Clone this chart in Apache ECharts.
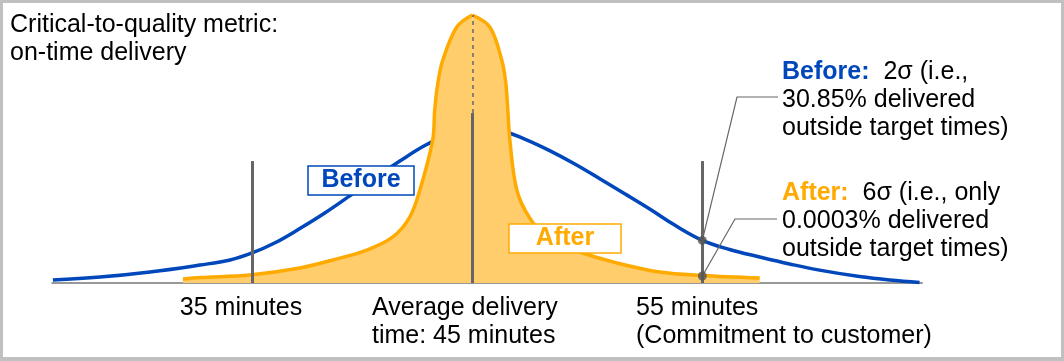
<!DOCTYPE html>
<html><head><meta charset="utf-8">
<script src="https://cdn.jsdelivr.net/npm/echarts@6/dist/echarts.min.js"></script>
<style>html,body{margin:0;padding:0;background:#fff}#c{width:1064px;height:361px}</style>
</head><body><div id="c"></div>
<script>
// Before (wide) distribution: minutes vs relative density
const blueMinutes = [26.14, 28.23, 30.46, 32.68, 34.02, 35.0, 36.02, 37.12, 38.23, 39.34, 40.46, 41.57, 42.68, 43.79, 44.99, 46.01, 47.12, 48.23, 49.35, 50.46, 51.57, 52.68, 53.79, 55.03, 56.23, 57.57, 58.9, 60.23, 62.01, 63.35, 64.68];
const blueValues  = [1.1, 2.2, 4.1, 6.7, 8.6, 11.2, 15.0, 20.3, 26.1, 32.5, 39.2, 45.5, 51.3, 55.6, 58.2, 57.1, 53.7, 49.4, 44.4, 38.9, 33.3, 27.6, 21.6, 15.9, 12.5, 9.7, 7.1, 4.8, 2.4, 1.1, 0.2];
// After (narrow) distribution, left half up to the peak, right half from the peak
const orangeLeftMinutes  = [31.92, 32.68, 34.9, 37.12, 38.59, 40.1, 41.26, 42.01, 42.46, 43.03, 43.12, 43.26, 43.48, 44.1, 44.79];
const orangeLeftValues   = [1.5, 2.05, 3.0, 5.6, 8.6, 12.3, 17.2, 24.6, 34.7, 53.4, 64.6, 74.6, 83.2, 95.5, 100];
const orangeRightMinutes = [44.79, 45.57, 46.1, 46.28, 46.37, 46.46, 46.77, 47.34, 48.23, 49.7, 51.21, 53.12, 55.02, 57.57];
const orangeRightValues  = [100, 95.5, 83.2, 74.6, 64.6, 53.4, 34.7, 24.3, 16.0, 11.2, 7.5, 4.1, 2.8, 1.87];
// Reference lines (minutes) and their top values
const markerMinutes = [35, 44.79, 55];
const markerTops = [45.5, 63.4, 45.5];
const meanDashedTop = 100;
// Intersection dots on the 55-minute line
const dotMinutes = [55.02, 55.02];
const dotValues = [15.9, 2.6];
// Texts
const titleText = 'Critical-to-quality metric:\non-time delivery';
const tickLabels = ['35 minutes', 'Average delivery\ntime: 45 minutes', '55 minutes\n(Commitment to customer)'];
const beforeNote = ['Before:', '2σ (i.e.,', '30.85% delivered', 'outside target times)'];
const afterNote = ['After:', '6σ (i.e., only', '0.0003% delivered', 'outside target times)'];
const seriesNames = ['Before', 'After'];

const BLUE = '#0047BB', ORANGE = '#FFAA00', FILL = '#FFCD6B', GRAY = '#666666';
const FF = '"Liberation Sans", Arial, Helvetica, sans-serif';
const FONT = '25px ' + FF;

const pair = (xs, ys) => xs.map((x, i) => [x, ys[i]]);
const chart = echarts.init(document.getElementById('c'), null, {renderer: 'canvas'});

const option = {
  animation: false,
  grid: {left: 52, right: 141.75, top: 15, bottom: 78},
  xAxis: {type: 'value', min: 26.1, max: 64.8, axisLine: {show: true, lineStyle: {color: '#777', width: 1.5}},
    axisTick: {show: false}, axisLabel: {show: false}, splitLine: {show: false}},
  yAxis: {type: 'value', min: 0, max: 100, show: false, splitLine: {show: false}},
  series: [
    {name: seriesNames[0], type: 'line', data: pair(blueMinutes, blueValues), smooth: 0.4, symbol: 'none',
      lineStyle: {color: BLUE, width: 3.5}, z: 2},
    {name: seriesNames[1], type: 'line', data: pair(orangeLeftMinutes, orangeLeftValues), smooth: 0.35, symbol: 'none',
      lineStyle: {color: ORANGE, width: 3.5}, areaStyle: {color: FILL, opacity: 1}, z: 3},
    {name: seriesNames[1], type: 'line', data: pair(orangeRightMinutes, orangeRightValues), smooth: 0.35, symbol: 'none',
      lineStyle: {color: ORANGE, width: 3.5}, areaStyle: {color: FILL, opacity: 1}, z: 3},
    {type: 'line', data: [], z: 4, silent: true,
      markLine: {silent: true, symbol: 'none', label: {show: false},
        data: markerMinutes.map((m, i) => [{coord: [m, 0], lineStyle: {color: GRAY, width: 3, type: 'solid'}}, {coord: [m, markerTops[i]]}])
          .concat([[{coord: [markerMinutes[1], markerTops[1]], lineStyle: {color: GRAY, width: 1.5, type: [4, 4]}}, {coord: [markerMinutes[1], meanDashedTop]}]])
      }},
    {type: 'scatter', data: pair(dotMinutes, dotValues), symbolSize: 9, itemStyle: {color: '#555'}, z: 6}
  ]
};
chart.setOption(option);

const d1 = chart.convertToPixel({gridIndex: 0}, [dotMinutes[0], dotValues[0]]);
const d2 = chart.convertToPixel({gridIndex: 0}, [dotMinutes[1], dotValues[1]]);

function box(x, y, w, h, color, text) {
  return [
    {type: 'rect', z: 100, shape: {x: x, y: y, width: w, height: h}, style: {fill: '#fff', stroke: color, lineWidth: 1.5}},
    {type: 'text', z: 101, x: x + w / 2, y: y + h / 2, style: {text: text, fill: color, font: 'bold 25px ' + FF, align: 'center', verticalAlign: 'middle'}}
  ];
}

chart.setOption({graphic: [
  // frame
  {type: 'rect', shape: {x: 0, y: 0, width: 1064, height: 3}, style: {fill: '#c0c0c0'}, z: 120},
  {type: 'rect', shape: {x: 0, y: 0, width: 3, height: 361}, style: {fill: '#c0c0c0'}, z: 120},
  {type: 'rect', shape: {x: 1061, y: 0, width: 3, height: 361}, style: {fill: '#c0c0c0'}, z: 120},
  {type: 'rect', shape: {x: 0, y: 357, width: 1064, height: 4}, style: {fill: '#c0c0c0'}, z: 120},
  // title
  {type: 'text', x: 10, y: 11, style: {text: titleText, font: FONT, fill: '#000', lineHeight: 28}},
  // bottom labels
  {type: 'text', x: 241, y: 294, style: {text: tickLabels[0], font: FONT, fill: '#000', lineHeight: 28, align: 'center'}},
  {type: 'text', x: 372, y: 294, style: {text: tickLabels[1], font: FONT, fill: '#000', lineHeight: 28}},
  {type: 'text', x: 636, y: 294, style: {text: tickLabels[2], font: FONT, fill: '#000', lineHeight: 28}},
  // notes
  {type: 'text', x: 782, y: 58, style: {text: '{b|' + beforeNote[0] + '}  ' + beforeNote[1] + '\n' + beforeNote[2] + '\n' + beforeNote[3],
    font: FONT, fill: '#000', lineHeight: 28, rich: {b: {font: 'bold 25px ' + FF, fill: BLUE, lineHeight: 28}}}},
  {type: 'text', x: 782, y: 179, style: {text: '{b|' + afterNote[0] + '}  ' + afterNote[1] + '\n' + afterNote[2] + '\n' + afterNote[3],
    font: FONT, fill: '#000', lineHeight: 28, rich: {b: {font: 'bold 25px ' + FF, fill: ORANGE, lineHeight: 28}}}},
  // leader lines
  {type: 'polyline', z: 5, shape: {points: [d1, [737, 97], [778, 97]]}, style: {stroke: GRAY, lineWidth: 1.2, fill: null}},
  {type: 'polyline', z: 5, shape: {points: [d2, [735, 219], [777, 219]]}, style: {stroke: GRAY, lineWidth: 1.2, fill: null}}
].concat(box(308, 166, 106, 29, BLUE, seriesNames[0]), box(509, 224, 112, 29, ORANGE, seriesNames[1]))});
</script></body></html>
